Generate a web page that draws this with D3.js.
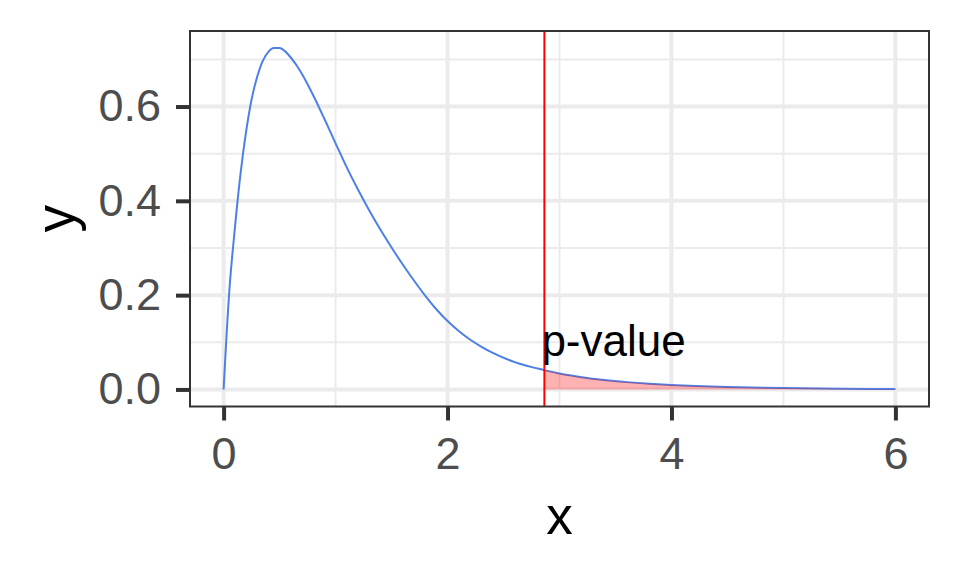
<!DOCTYPE html>
<html>
<head>
<meta charset="utf-8">
<script src="https://cdn.jsdelivr.net/npm/d3@7"></script>
<style>
  body { margin: 0; background: #fff; }
  svg { display: block; font-family: "Liberation Sans", Arial, sans-serif; }
</style>
</head>
<body>
<div id="chart"></div>
<script>
// densidade
const xVals = [0, 0.05, 0.1, 0.15, 0.2, 0.25, 0.3, 0.35, 0.4, 0.45, 0.5, 0.55, 0.6, 0.65, 0.7, 0.8, 0.9,
  1.0, 1.1, 1.2, 1.3, 1.4, 1.5, 1.6, 1.7, 1.8, 1.9, 2.0, 2.1, 2.2, 2.3, 2.4, 2.6, 2.865,
  3.0, 3.2, 3.4, 3.6, 3.8, 4.0, 4.5, 5.0, 5.5, 6.0];
const yVals = [0, 0.205, 0.34, 0.455, 0.545, 0.615, 0.663, 0.697, 0.716, 0.724, 0.724, 0.717, 0.704, 0.688, 0.669, 0.624, 0.574,
  0.522, 0.471, 0.424, 0.380, 0.339, 0.301, 0.265, 0.231, 0.199, 0.170, 0.145, 0.124, 0.106, 0.091, 0.078, 0.058, 0.041,
  0.034, 0.026, 0.020, 0.0155, 0.012, 0.0093, 0.005, 0.0028, 0.0016, 0.0009];
const pValue = 2.865;
const xTicks = [0, 2, 4, 6];
const xMinor = [1, 3, 5];
const yTicks = [0, 0.2, 0.4, 0.6];
const yMinor = [0.1, 0.3, 0.5, 0.7];

const width = 960, height = 576;
const panel = { left: 190, right: 929, top: 31, bottom: 406.5 };

const svg = d3.select("#chart").append("svg")
  .attr("width", width)
  .attr("height", height);

const x = d3.scaleLinear().domain([-0.3, 6.3]).range([panel.left, panel.right]);
const y = d3.scaleLinear().domain([-0.0362, 0.7602]).range([panel.bottom, panel.top]);

const data = xVals.map((v, i) => ({ x: v, y: yVals[i] }));

// grade
const grid = svg.append("g");
grid.selectAll(".xminor").data(xMinor).enter().append("line")
  .attr("x1", d => x(d)).attr("x2", d => x(d))
  .attr("y1", panel.top).attr("y2", panel.bottom)
  .attr("stroke", "#ebebeb").attr("stroke-width", 2);
grid.selectAll(".yminor").data(yMinor).enter().append("line")
  .attr("x1", panel.left).attr("x2", panel.right)
  .attr("y1", d => y(d)).attr("y2", d => y(d))
  .attr("stroke", "#ebebeb").attr("stroke-width", 2);
grid.selectAll(".xmajor").data(xTicks).enter().append("line")
  .attr("x1", d => x(d)).attr("x2", d => x(d))
  .attr("y1", panel.top).attr("y2", panel.bottom)
  .attr("stroke", "#ebebeb").attr("stroke-width", 4);
grid.selectAll(".ymajor").data(yTicks).enter().append("line")
  .attr("x1", panel.left).attr("x2", panel.right)
  .attr("y1", d => y(d)).attr("y2", d => y(d))
  .attr("stroke", "#ebebeb").attr("stroke-width", 4);

// curva
const line = d3.line().x(d => x(d.x)).y(d => y(d.y)).curve(d3.curveMonotoneX);
svg.append("path")
  .datum(data)
  .attr("fill", "none")
  .attr("stroke", "#4d80e6")
  .attr("stroke-width", 2)
  .attr("d", line);

// área do p-valor
const area = d3.area().x(d => x(d.x)).y0(y(0)).y1(d => y(d.y)).curve(d3.curveMonotoneX);
svg.append("path")
  .datum(data.filter(d => d.x >= pValue))
  .attr("fill", "red")
  .attr("fill-opacity", 0.3)
  .attr("d", area);

// linha vertical
svg.append("line")
  .attr("x1", x(pValue)).attr("x2", x(pValue))
  .attr("y1", panel.top).attr("y2", panel.bottom)
  .attr("stroke", "red").attr("stroke-width", 2);

svg.append("text")
  .attr("x", x(pValue) - 3)
  .attr("y", y(0.07))
  .attr("font-size", 44)
  .attr("fill", "#000")
  .text("p-value");

// borda do painel
svg.append("rect")
  .attr("x", panel.left).attr("y", panel.top)
  .attr("width", panel.right - panel.left)
  .attr("height", panel.bottom - panel.top)
  .attr("fill", "none").attr("stroke", "#333").attr("stroke-width", 2);

// eixos
const xAxis = svg.append("g")
  .attr("transform", `translate(0,${panel.bottom})`)
  .call(d3.axisBottom(x).tickValues(xTicks).tickFormat(d3.format("d")).tickSize(14).tickPadding(17));
const yAxis = svg.append("g")
  .attr("transform", `translate(${panel.left},0)`)
  .call(d3.axisLeft(y).tickValues(yTicks).tickFormat(d3.format(".1f")).tickSize(14).tickPadding(15));

[xAxis, yAxis].forEach(ax => {
  ax.select(".domain").remove();
  ax.selectAll(".tick line").attr("stroke", "#333").attr("stroke-width", 4);
  ax.selectAll(".tick text")
    .attr("fill", "#4d4d4d")
    .attr("font-size", 45)
    .attr("font-family", "Liberation Sans, Arial, sans-serif");
});

svg.append("text")
  .attr("x", (panel.left + panel.right) / 2)
  .attr("y", 534)
  .attr("text-anchor", "middle")
  .attr("font-size", 53)
  .text("x");

svg.append("text")
  .attr("transform", `translate(74,${(panel.top + panel.bottom) / 2}) rotate(-90)`)
  .attr("text-anchor", "middle")
  .attr("font-size", 55)
  .text("y");
</script>
</body>
</html>
